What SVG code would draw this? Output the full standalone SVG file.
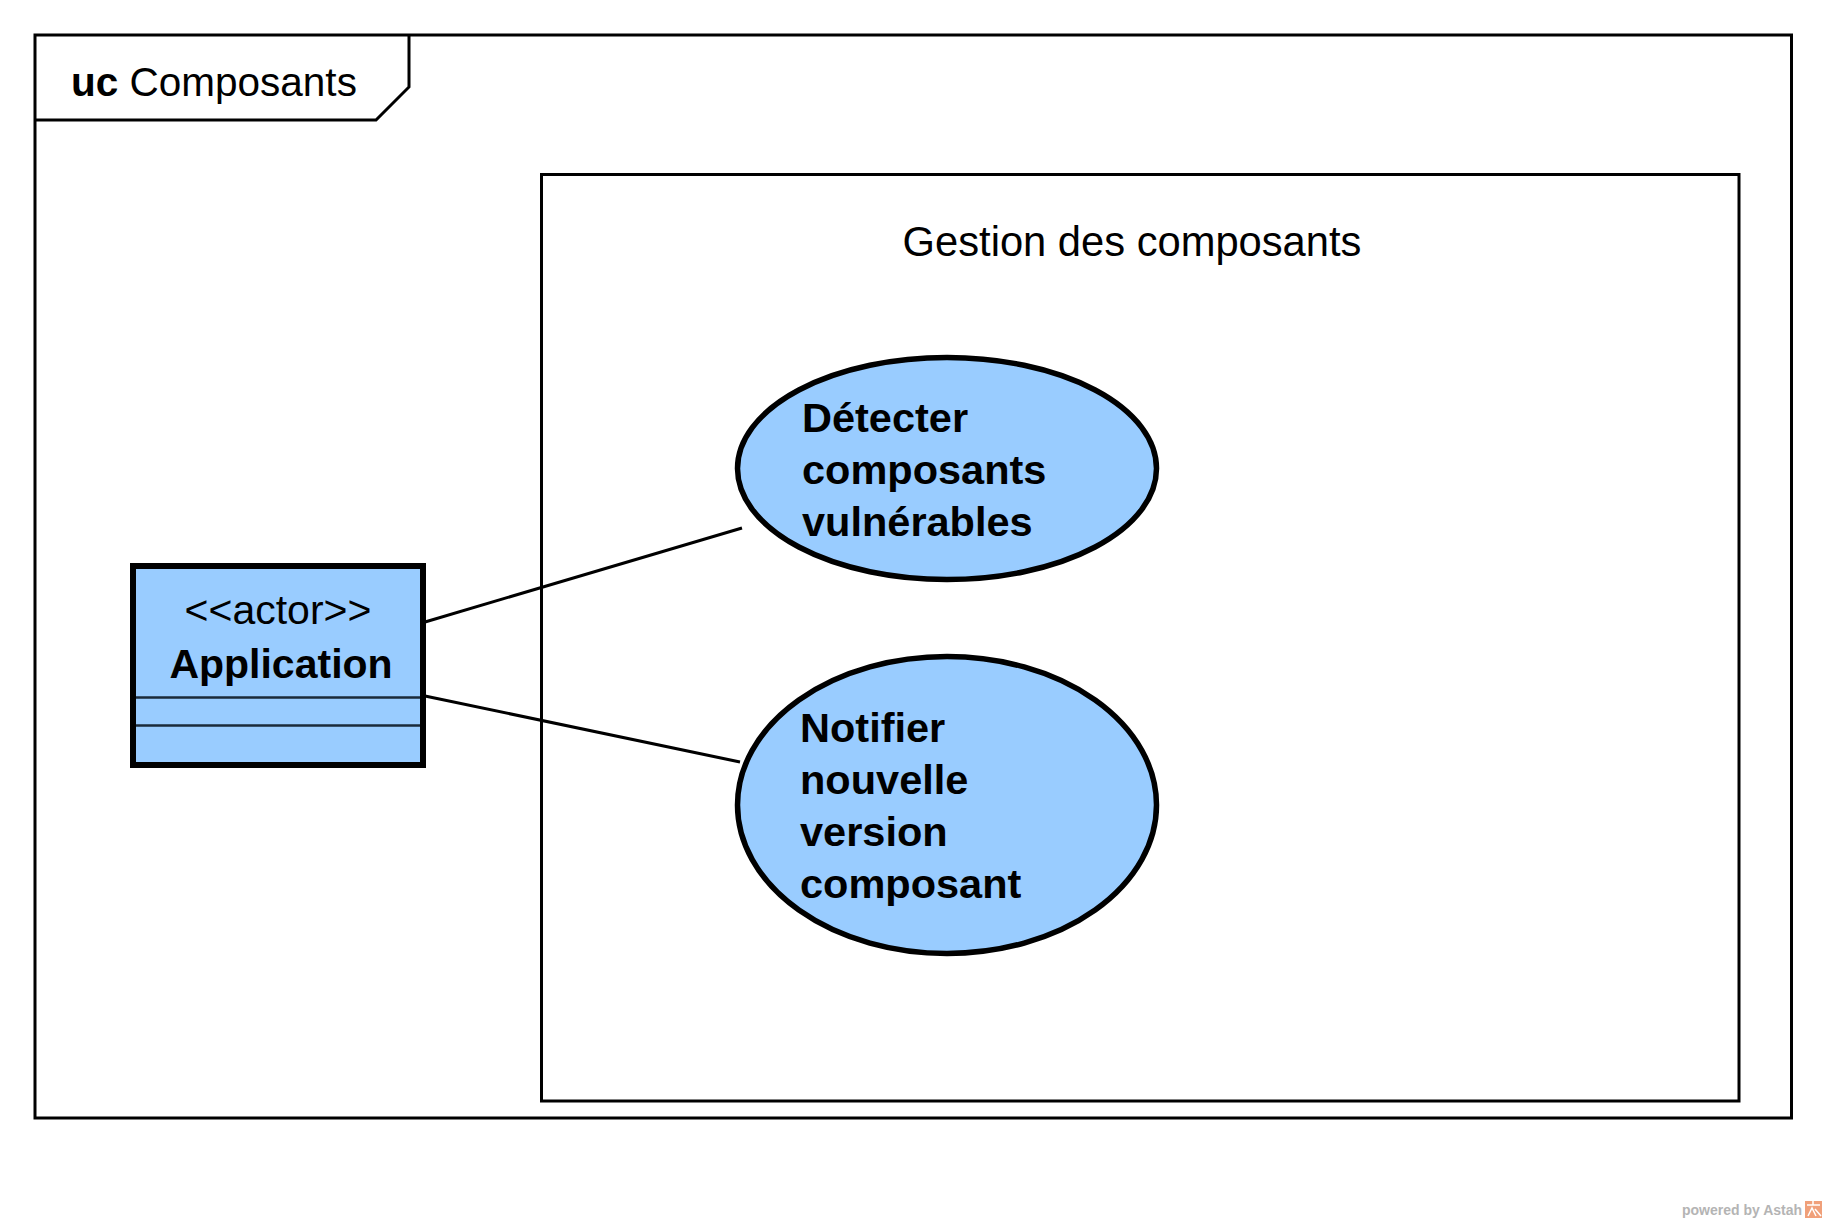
<svg xmlns="http://www.w3.org/2000/svg" width="1826" height="1222" viewBox="0 0 1826 1222">
<style>
.frame{fill:none;stroke:#000;stroke-width:3}
.node{fill:#99ccff;stroke:#000}
.conn{stroke:#000;stroke-width:3;fill:none}
.t{font-family:"Liberation Sans",Arial,sans-serif;fill:#000}
.b{font-weight:bold}
</style>
<rect x="0" y="0" width="1826" height="1222" fill="#fff"/>
<g id="frame">
<rect class="frame" x="35" y="35" width="1756.5" height="1083"/>
<polyline class="frame" points="35,120 376,120 409,87 409,35"/>
<text class="t" x="71" y="96" font-size="40.5"><tspan class="b">uc</tspan> Composants</text>
</g>
<g id="boundary">
<rect class="frame" x="541.5" y="174.5" width="1197.5" height="926.5"/>
<text class="t" x="1132" y="256" font-size="41.7" text-anchor="middle">Gestion des composants</text>
</g>
<g id="connectors">
<line class="conn" x1="425" y1="622" x2="742" y2="528"/>
<line class="conn" x1="425" y1="696" x2="740" y2="762"/>
</g>
<g id="actor">
<rect class="node" x="133" y="566" width="290" height="199" stroke-width="6"/>
<line x1="136" y1="697.5" x2="420" y2="697.5" stroke="#1a2a3a" stroke-width="2.5"/>
<line x1="136" y1="725.5" x2="420" y2="725.5" stroke="#1a2a3a" stroke-width="2.5"/>
<text class="t" x="278" y="624" font-size="41" text-anchor="middle">&lt;&lt;actor&gt;&gt;</text>
<text class="t b" x="281" y="678" font-size="41" text-anchor="middle">Application</text>
</g>
<g id="uc1">
<ellipse class="node" cx="947" cy="468.5" rx="209.5" ry="111" stroke-width="5.5"/>
<text class="t b" x="802" y="432" font-size="41.5"><tspan x="802" y="432">Détecter</tspan><tspan x="802" y="484">composants</tspan><tspan x="802" y="536">vulnérables</tspan></text>
</g>
<g id="uc2">
<ellipse class="node" cx="947" cy="805" rx="209.5" ry="148.5" stroke-width="5.5"/>
<text class="t b" x="800" y="742" font-size="41.5"><tspan x="800" y="742">Notifier</tspan><tspan x="800" y="794">nouvelle</tspan><tspan x="800" y="846">version</tspan><tspan x="800" y="898">composant</tspan></text>
</g>
<g id="watermark">
<text class="t b" x="1682" y="1215" font-size="14" style="fill:#b4b4b4">powered by Astah</text>
<rect x="1805" y="1201" width="17" height="17" fill="#f0a07a"/>
<path d="M1807,1205 L1820,1205 M1813,1201 L1813,1205 M1808,1216 L1812,1208 L1816,1216 M1815,1209 L1821,1216" stroke="#fff" stroke-width="1.5" fill="none"/>
</g>
</svg>
